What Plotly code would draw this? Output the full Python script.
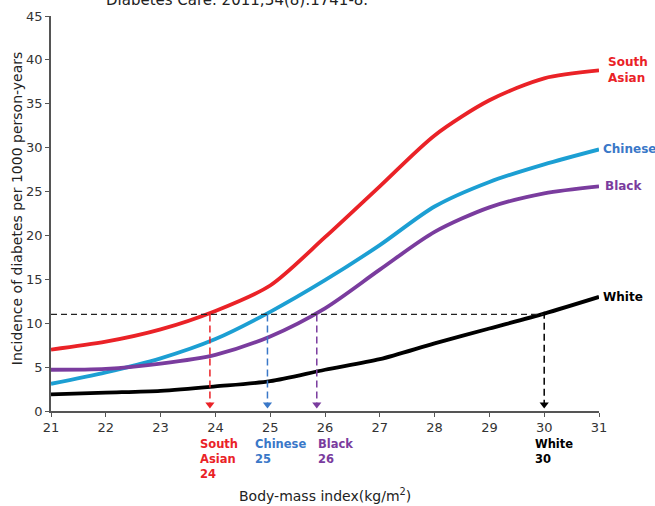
import plotly.graph_objects as go

# BMI grid (kg/m2)
bmi = [21, 22, 23, 24, 25, 26, 27, 28, 29, 30, 31]

# Diabetes incidence per 1000 person-years by ethnic group
south_asian = [7.0, 7.9, 9.3, 11.4, 14.3, 19.8, 25.6, 31.4, 35.4, 37.9, 38.8]
chinese = [3.1, 4.4, 6.0, 8.2, 11.3, 14.9, 18.9, 23.3, 26.1, 28.1, 29.8]
black = [4.7, 4.8, 5.4, 6.4, 8.5, 11.7, 16.1, 20.4, 23.2, 24.8, 25.6]
white = [1.9, 2.1, 2.3, 2.8, 3.4, 4.7, 5.9, 7.7, 9.4, 11.1, 13.0]

# Equivalent-risk BMI cut-offs where each curve reaches the reference incidence
reference_incidence = 11.0
cutoff_bmi = [23.9, 24.95, 25.85, 30.0]
cutoff_start = [11.0, 11.0, 11.0, 11.3]

groups = ["South Asian", "Chinese", "Black", "White"]
line_colors = ["#ea2227", "#1c9fd3", "#7a3c9e", "#000000"]
label_colors = ["#ea2227", "#3a78c8", "#7a3c9e", "#000000"]
series = [south_asian, chinese, black, white]

FONT = "DejaVu Sans"
X_RANGE = [21, 31]
Y_RANGE = [0, 45]


def px(x):
    """Data x -> paper fraction (works outside the axis range)."""
    return (x - X_RANGE[0]) / (X_RANGE[1] - X_RANGE[0])


def py(y):
    """Data y -> paper fraction (works outside the axis range)."""
    return (y - Y_RANGE[0]) / (Y_RANGE[1] - Y_RANGE[0])


fig = go.Figure()

for name, ys, col in zip(groups, series, line_colors):
    fig.add_trace(go.Scatter(
        x=bmi, y=ys, mode="lines", name=name,
        line=dict(color=col, width=3.8, shape="spline", smoothing=0.8),
        showlegend=False, cliponaxis=False,
    ))

# horizontal reference line
fig.add_trace(go.Scatter(
    x=[bmi[0], cutoff_bmi[-1]], y=[reference_incidence, reference_incidence],
    mode="lines", line=dict(color="#222222", width=1.3, dash="6px,4px"),
    showlegend=False,
))

# vertical dashed drop lines with arrow heads
for xv, y0, col in zip(cutoff_bmi, cutoff_start, label_colors):
    fig.add_trace(go.Scatter(
        x=[xv, xv], y=[y0, 0.9], mode="lines",
        line=dict(color=col, width=1.5, dash="7px,4px"),
        showlegend=False,
    ))
    fig.add_trace(go.Scatter(
        x=[xv], y=[0.75], mode="markers",
        marker=dict(symbol="triangle-down", size=8, color=col),
        showlegend=False, cliponaxis=False,
    ))

# right-hand curve labels
right_labels = [
    ("South<br>Asian", 31.12, 38.8),
    ("Chinese", 31.03, 29.8),
    ("Black", 31.07, 25.6),
    ("White", 31.03, 13.0),
]
for (txt, xv, yv), col in zip(right_labels, label_colors):
    fig.add_annotation(
        x=px(xv), y=py(yv), xref="paper", yref="paper", text=f"<b>{txt}</b>",
        showarrow=False, xanchor="left", yanchor="middle", align="left",
        font=dict(family=FONT, size=12, color=col),
    )

# cut-off labels beneath the x axis
below_names = ["South<br>Asian", "Chinese", "Black", "White"]
below_x = [23.68, 24.69, 25.84, 29.8]
for nm, xv, cb, col in zip(below_names, below_x, cutoff_bmi, label_colors):
    fig.add_annotation(
        x=px(xv), y=py(-2.75), xref="paper", yref="paper",
        text=f"<b>{nm}<br>{round(cb)}</b>",
        showarrow=False, xanchor="left", yanchor="top", align="left",
        font=dict(family=FONT, size=11.5, color=col),
    )

# axis titles
fig.add_annotation(
    x=px(26.0), y=py(-9.6), xref="paper", yref="paper",
    text="Body-mass index(kg/m<sup>2</sup>)", showarrow=False,
    xanchor="center", yanchor="middle",
    font=dict(family=FONT, size=14, color="#222222"),
)
fig.add_annotation(
    x=-0.062, y=py(23.0), xref="paper", yref="paper",
    text="Incidence of diabetes per 1000 person-years", showarrow=False,
    textangle=-90, xanchor="center", yanchor="middle",
    font=dict(family=FONT, size=14, color="#222222"),
)

# citation line at the top
fig.add_annotation(
    x=px(24.4), y=1, xref="paper", yref="paper",
    text="Diabetes Care. 2011;34(8):1741-8.", showarrow=False,
    xanchor="center", yanchor="bottom", yshift=5,
    font=dict(family=FONT, size=15, color="#222222"),
)

fig.update_layout(
    width=655, height=506,
    margin=dict(l=51, r=56, t=16, b=95),
    paper_bgcolor="white", plot_bgcolor="white",
    font=dict(family=FONT, size=13, color="#333333"),
)
fig.update_xaxes(
    range=X_RANGE, tickmode="array", tickvals=bmi, automargin=False,
    showgrid=False, zeroline=False,
    showline=True, linecolor="#555555", linewidth=1.5,
    ticks="outside", ticklen=4, tickcolor="#555555",
    tickfont=dict(family=FONT, size=13, color="#333333"),
)
fig.update_yaxes(
    range=Y_RANGE, tickmode="array", tickvals=list(range(0, 46, 5)),
    automargin=False,
    showgrid=False, zeroline=False,
    showline=True, linecolor="#555555", linewidth=1.5,
    ticks="outside", ticklen=4, tickcolor="#555555",
    tickfont=dict(family=FONT, size=13, color="#333333"),
)

fig.write_html("out.html")
